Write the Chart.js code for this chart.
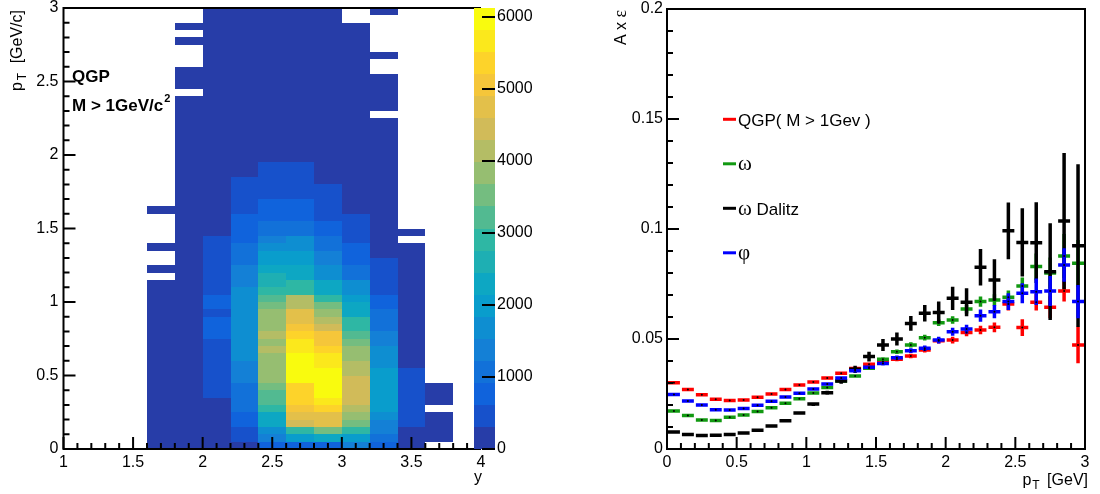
<!DOCTYPE html>
<html>
<head>
<meta charset="utf-8">
<title>QGP pT vs y and acceptance x efficiency</title>
<script src="https://cdn.jsdelivr.net/npm/chart.js@4.4.1/dist/chart.umd.min.js"></script>
<style>
  html, body { margin:0; padding:0; background:#ffffff; }
  body { width:1100px; height:494px; position:relative; overflow:hidden; }
  canvas { position:absolute; top:0; }
  #heat { left:0; }
  #acc { left:550px; }
</style>
</head>
<body>
<canvas id="heat" width="550" height="494"></canvas>
<canvas id="acc" width="550" height="494"></canvas>
<script>
// ================= LEFT PANEL DATA: counts in (y, pT) bins =================
// rapidity bins: lower edges, width 0.2 ; pT bins: 0.05 wide starting at 0 (index 0 = 0-0.05 GeV/c)
const rapidityLowEdges = [1.6, 1.8, 2.0, 2.2, 2.4, 2.6, 2.8, 3.0, 3.2, 3.4, 3.6];
const rapidityBinWidth = 0.2;
const ptBinWidth2D = 0.05;

const counts_y1p6 = [45,60,75,85,90,95,95,90,85,80,75,70,60,55,50,45,40,35,30,25,20,15,12,0,8,0,0,5,0,0,0,0,4,0,0,0,0,0,0,0,0,0,0,0,0,0,0,0,0,0,0,0,0,0,0,0,0,0,0,0];
const counts_y1p8 = [150,175,195,210,220,225,225,220,215,205,195,185,175,165,150,140,130,120,110,100,90,82,75,68,62,56,50,45,41,37,33,30,27,24,22,20,18,16,15,13,12,11,10,9,8,8,7,7,0,6,5,5,0,0,0,4,0,3,0,0];
const counts_y2p0 = [230,260,280,290,295,300,300,380,440,490,530,560,580,600,605,640,700,660,590,650,630,580,540,500,460,420,390,350,320,290,270,250,230,210,190,170,155,140,125,110,100,90,80,72,64,57,50,45,40,36,32,28,25,22,20,18,16,14,12,10];
const counts_y2p2 = [260,450,560,700,850,950,1000,1050,1100,1250,1320,1380,1550,1600,1640,1660,1670,1670,1660,1650,1640,1620,1500,1420,1350,1150,1050,950,880,820,720,650,580,520,460,400,340,290,260,235,210,190,170,150,135,120,105,95,85,75,66,58,50,44,38,33,28,24,20,16];
const counts_y2p4 = [800,1300,1650,2250,2350,2900,3150,3250,3500,3750,3800,3850,3800,4150,3850,4100,3850,3800,3750,3500,3200,2900,2700,2650,2300,2050,1900,1700,1400,1100,1000,850,750,650,590,530,470,410,340,290,260,230,205,185,165,148,132,118,105,94,84,75,67,60,53,47,42,37,33,29];
const counts_y2p6 = [850,2000,2950,4400,4700,5050,5350,5400,5350,5950,6050,6100,6000,5700,5650,5350,5100,4750,4700,4150,4100,2950,2850,2400,2250,2000,1950,1700,1650,1100,1000,850,750,650,590,540,480,420,350,295,265,235,210,188,168,150,134,120,107,96,86,77,69,61,54,48,43,38,34,30];
const counts_y2p8 = [800,2300,3550,4700,4750,5350,5650,5950,6000,6050,5950,5700,5650,5350,5050,5000,4450,4150,3850,3500,2900,2300,2250,1700,1650,1400,1350,1100,1000,800,700,590,530,460,400,330,290,260,235,210,190,170,152,136,122,109,97,87,78,70,62,55,49,44,39,35,31,27,24,21];
const counts_y3p0 = [1350,2000,2900,3500,3800,4150,4450,4500,4450,4400,4150,4100,3850,3800,3500,3200,2950,2850,2300,2250,2000,1700,1650,1100,1000,850,750,650,580,500,420,340,290,260,235,210,188,168,150,134,120,107,96,86,77,69,61,54,48,43,38,34,30,27,24,21,18,16,0,0];
const counts_y3p2 = [800,1100,1350,1400,1700,1900,2000,2050,2050,2000,1950,1800,1650,1600,1400,1350,1100,1050,950,800,700,580,520,450,380,320,280,240,210,180,155,135,118,102,90,78,68,60,52,45,40,35,30,26,22,0,18,15,13,11,9,0,0,7,0,0,0,0,0,5];
const counts_y3p4 = [200,250,290,330,380,420,450,460,440,400,340,290,270,250,230,210,190,170,150,135,120,105,92,80,70,60,50,42,0,30,0,0,0,0,0,0,0,0,0,0,0,0,0,0,0,0,0,0,0,0,0,0,0,0,0,0,0,0,0,0];
const counts_y3p6 = [0,40,60,70,75,0,55,45,35,0,0,0,0,0,0,0,0,0,0,0,0,0,0,0,0,0,0,0,0,0,0,0,0,0,0,0,0,0,0,0,0,0,0,0,0,0,0,0,0,0,0,0,0,0,0,0,0,0,0,0];
const countColumns = [counts_y1p6, counts_y1p8, counts_y2p0, counts_y2p2, counts_y2p4, counts_y2p6, counts_y2p8, counts_y3p0, counts_y3p2, counts_y3p4, counts_y3p6];

const zMax = 6125;
const nContours = 20;
const colorbarTickValues = [0, 1000, 2000, 3000, 4000, 5000, 6000];
const rapidityTickValues = [1, 1.5, 2, 2.5, 3, 3.5, 4];
const ptTickValues2D = [0, 0.5, 1, 1.5, 2, 2.5, 3];

// ================= RIGHT PANEL DATA: A x eps vs pT =================
const ptHalfBin = 0.05;
const ptBinCenters = [0.05,0.15,0.25,0.35,0.45,0.55,0.65,0.75,0.85,0.95,1.05,1.15,1.25,1.35,1.45,1.55,1.65,1.75,1.85,1.95,2.05,2.15,2.25,2.35,2.45,2.55,2.65,2.75,2.85,2.95];
const qgpAccEff = [0.0301,0.0271,0.0247,0.0226,0.0220,0.0223,0.0235,0.0250,0.0270,0.0291,0.0305,0.0323,0.0344,0.0366,0.0385,0.0398,0.0408,0.0423,0.0450,0.0492,0.0495,0.0529,0.0541,0.0553,0.0659,0.0552,0.0667,0.0644,0.0718,0.0473];
const qgpErr = [0.0004,0.0004,0.0004,0.0004,0.0004,0.0004,0.0004,0.0004,0.0004,0.0005,0.0005,0.0005,0.0006,0.0006,0.0007,0.0008,0.0009,0.0010,0.0011,0.0013,0.0015,0.0017,0.0019,0.0022,0.0030,0.0038,0.0038,0.0050,0.0047,0.0083];
const omegaAccEff = [0.0173,0.0152,0.0132,0.0129,0.0144,0.0154,0.0170,0.0187,0.0208,0.0228,0.0254,0.0280,0.0309,0.0332,0.0367,0.0408,0.0442,0.0473,0.0506,0.0574,0.0586,0.0636,0.0670,0.0677,0.0690,0.0741,0.0829,0.0800,0.0877,0.0844];
const omegaErr = [0.0004,0.0004,0.0004,0.0004,0.0004,0.0004,0.0004,0.0004,0.0005,0.0005,0.0005,0.0006,0.0006,0.0007,0.0008,0.0009,0.0010,0.0012,0.0013,0.0015,0.0017,0.0020,0.0023,0.0026,0.0030,0.0038,0.0060,0.0070,0.0100,0.0106];
const dalitzAccEff = [0.0077,0.0066,0.0061,0.0062,0.0066,0.0073,0.0085,0.0104,0.0128,0.0164,0.0204,0.0256,0.0309,0.0362,0.0420,0.0473,0.0500,0.0571,0.0617,0.0621,0.0685,0.0667,0.0826,0.0768,0.0992,0.0939,0.0938,0.0806,0.1036,0.0924];
const dalitzErr = [0.0004,0.0004,0.0004,0.0004,0.0004,0.0004,0.0005,0.0005,0.0006,0.0007,0.0008,0.0009,0.0012,0.0016,0.0022,0.0027,0.0030,0.0033,0.0038,0.0050,0.0053,0.0064,0.0083,0.0094,0.0129,0.0155,0.0184,0.0220,0.0310,0.0370];
const phiAccEff = [0.0248,0.0218,0.0200,0.0178,0.0177,0.0184,0.0199,0.0217,0.0236,0.0253,0.0273,0.0295,0.0323,0.0356,0.0372,0.0389,0.0415,0.0447,0.0458,0.0495,0.0533,0.0545,0.0606,0.0624,0.0670,0.0708,0.0715,0.0718,0.0836,0.0670];
const phiErr = [0.0004,0.0004,0.0004,0.0004,0.0004,0.0004,0.0004,0.0004,0.0005,0.0005,0.0005,0.0006,0.0006,0.0007,0.0008,0.0009,0.0010,0.0011,0.0012,0.0015,0.0018,0.0020,0.0028,0.0030,0.0038,0.0045,0.0060,0.0068,0.0076,0.0076];
const seriesLabels = ['QGP( M > 1Gev )', 'ω', 'ω Dalitz', 'φ'];
const ptTickValues = [0, 0.5, 1, 1.5, 2, 2.5, 3];
const accTickValues = [0, 0.05, 0.1, 0.15, 0.2];

// ================= helpers =================
const SANS = '"Liberation Sans", Arial, Helvetica, sans-serif';
const SERIF = '"Liberation Serif", "Times New Roman", serif';
Chart.defaults.font.family = SANS;
Chart.defaults.color = '#000';

const birdStops = [0, 0.125, 0.25, 0.375, 0.5, 0.625, 0.75, 0.875, 1];
const birdR = [0.2082, 0.0592, 0.0780, 0.0232, 0.1802, 0.5301, 0.8186, 0.9956, 0.9764];
const birdG = [0.1664, 0.3599, 0.5041, 0.6419, 0.7178, 0.7492, 0.7328, 0.7862, 0.9832];
const birdB = [0.5293, 0.8684, 0.8385, 0.7914, 0.6425, 0.4662, 0.3499, 0.1968, 0.0539];
function bird(t) {
  let i = 0;
  while (i < birdStops.length - 2 && t > birdStops[i + 1]) i++;
  const f = (t - birdStops[i]) / (birdStops[i + 1] - birdStops[i]);
  const c = a => Math.round(255 * (a[i] + (a[i + 1] - a[i]) * f));
  return `rgb(${c(birdR)},${c(birdG)},${c(birdB)})`;
}
function contourColor(k) {
  const idx = Math.min(254, Math.floor((k + 0.99) * 255 / nContours));
  return bird(idx / 254);
}
const fmt = v => String(Math.round(v * 10000) / 10000);
const r6 = v => Math.round(v * 1e6) / 1e6;

function drawRich(ctx, x, y, parts, align) {
  let total = 0;
  parts.forEach(p => { ctx.font = p.font; total += (p.gap || 0) + ctx.measureText(p.t).width; });
  let cur = align === 'right' ? x - total : x;
  parts.forEach(p => {
    ctx.font = p.font;
    cur += (p.gap || 0);
    ctx.fillText(p.t, cur, y + (p.dy || 0));
    cur += ctx.measureText(p.t).width;
  });
}

function drawRootTicks(chart, axisId, majorStep, minorStep) {
  const ctx = chart.ctx, s = chart.scales[axisId], a = chart.chartArea;
  ctx.save();
  ctx.strokeStyle = '#000';
  ctx.lineWidth = 2;
  const n = Math.round((s.max - s.min) / minorStep);
  ctx.beginPath();
  for (let i = 0; i <= n; i++) {
    const v = s.min + i * minorStep;
    const r = v / majorStep;
    const len = Math.abs(r - Math.round(r)) < 1e-6 ? 12 : 6;
    const p = s.getPixelForValue(v);
    if (s.isHorizontal()) { ctx.moveTo(p, a.bottom); ctx.lineTo(p, a.bottom - len); }
    else { ctx.moveTo(a.left, p); ctx.lineTo(a.left + len, p); }
  }
  ctx.stroke();
  ctx.restore();
}

function fixedScale(opts) {
  return Object.assign({
    type: 'linear',
    grid: { display: false, drawTicks: false },
    border: { display: false }
  }, opts);
}
function tickOpts(padding) {
  return { font: { family: SANS, size: 16, lineHeight: 1 }, color: '#000', padding: padding, maxRotation: 0, autoSkip: false, callback: v => fmt(v) };
}
function noPad(s) { s.paddingTop = 0; s.paddingBottom = 0; s.paddingLeft = 0; s.paddingRight = 0; }

// ================= LEFT CHART =================
const heatCells = [];
countColumns.forEach((col, ci) => {
  col.forEach((v, ri) => {
    if (v > 0) heatCells.push({ x: rapidityLowEdges[ci] + rapidityBinWidth / 2, y: (ri + 0.5) * ptBinWidth2D, v: v });
  });
});

const heatmapPlugin = {
  id: 'heatmap',
  beforeDatasetsDraw(chart) {
    const { ctx, scales: { x, y } } = chart;
    const step = zMax / nContours;
    ctx.save();
    chart.data.datasets[0].data.forEach(c => {
      const k = Math.min(nContours - 1, Math.floor(c.v / step));
      const x0 = Math.round(x.getPixelForValue(r6(c.x - rapidityBinWidth / 2)));
      const x1 = Math.round(x.getPixelForValue(r6(c.x + rapidityBinWidth / 2)));
      const y0 = Math.round(y.getPixelForValue(r6(c.y + ptBinWidth2D / 2)));
      const y1 = Math.round(y.getPixelForValue(r6(c.y - ptBinWidth2D / 2)));
      ctx.fillStyle = contourColor(k);
      ctx.fillRect(x0, y0, x1 - x0, y1 - y0);
    });
    ctx.restore();
  },
  afterDraw(chart) {
    const { ctx, chartArea: a, scales: { z } } = chart;
    ctx.save();
    ctx.strokeStyle = '#000';
    ctx.lineWidth = 2;
    ctx.beginPath();
    ctx.moveTo(a.left, a.top); ctx.lineTo(a.right, a.top);
    ctx.moveTo(a.left, a.bottom); ctx.lineTo(a.right, a.bottom);
    ctx.moveTo(a.left, a.top - 1); ctx.lineTo(a.left, a.bottom + 1);
    ctx.stroke();
    ctx.restore();
    drawRootTicks(chart, 'x', 0.5, 0.1);
    drawRootTicks(chart, 'y', 0.5, 0.1);
    // colour palette
    const step = zMax / nContours;
    const px0 = a.right - 7, px1 = a.right + 14;
    ctx.save();
    for (let k = 0; k < nContours; k++) {
      const yTop = Math.round(z.getPixelForValue((k + 1) * step));
      const yBot = Math.round(z.getPixelForValue(k * step));
      ctx.fillStyle = contourColor(k);
      ctx.fillRect(px0, yTop, px1 - px0, yBot - yTop);
    }
    ctx.strokeStyle = '#000';
    ctx.lineWidth = 2;
    ctx.beginPath();
    z.ticks.forEach(t => {
      const p = z.getPixelForValue(t.value);
      ctx.moveTo(px1 - 13, p); ctx.lineTo(px1, p);
    });
    ctx.stroke();
    ctx.restore();
    // texts
    ctx.save();
    ctx.fillStyle = '#000';
    ctx.textBaseline = 'alphabetic';
    drawRich(ctx, 72, 82, [{ t: 'QGP', font: 'bold 17px ' + SANS }], 'left');
    drawRich(ctx, 72, 111, [
      { t: 'M > 1GeV/c', font: 'bold 17px ' + SANS },
      { t: '2', font: 'bold 11px ' + SANS, dy: -9, gap: 1 }
    ], 'left');
    drawRich(ctx, 482, 482, [{ t: 'y', font: '16px ' + SANS }], 'right');
    ctx.translate(22, 10);
    ctx.rotate(-Math.PI / 2);
    drawRich(ctx, 0, 0, [
      { t: 'p', font: '16px ' + SANS },
      { t: 'T', font: '12px ' + SANS, dy: 4, gap: 2 },
      { t: ' [GeV/c]', font: '16px ' + SANS, gap: 5 }
    ], 'right');
    ctx.restore();
  }
};

new Chart(document.getElementById('heat'), {
  type: 'scatter',
  data: { datasets: [{ label: 'QGP M > 1GeV/c2', data: heatCells, pointRadius: 0, pointHoverRadius: 0 }] },
  options: {
    responsive: false,
    devicePixelRatio: 1,
    animation: false,
    events: [],
    layout: { padding: { top: 8, left: 0, right: 0, bottom: 0 } },
    plugins: { legend: { display: false }, tooltip: { enabled: false } },
    scales: {
      x: fixedScale({
        position: 'bottom', min: 1, max: 4,
        afterBuildTicks: s => { s.ticks = rapidityTickValues.map(v => ({ value: v })); },
        afterFit: s => { s.height = 45; noPad(s); },
        ticks: tickOpts(6)
      }),
      y: fixedScale({
        position: 'left', min: 0, max: 3,
        afterBuildTicks: s => { s.ticks = ptTickValues2D.map(v => ({ value: v })); },
        afterFit: s => { s.width = 63.5; noPad(s); },
        ticks: tickOpts(5)
      }),
      z: fixedScale({
        position: 'right', min: 0, max: zMax,
        afterBuildTicks: s => { s.ticks = colorbarTickValues.map(v => ({ value: v })); },
        afterFit: s => { s.width = 69; noPad(s); },
        ticks: tickOpts(16)
      })
    }
  },
  plugins: [heatmapPlugin]
});

// ================= RIGHT CHART =================
const accSeries = [
  { label: seriesLabels[0], values: qgpAccEff, errors: qgpErr, color: '#ff0000' },
  { label: seriesLabels[1], values: omegaAccEff, errors: omegaErr, color: '#119911' },
  { label: seriesLabels[2], values: dalitzAccEff, errors: dalitzErr, color: '#000000' },
  { label: seriesLabels[3], values: phiAccEff, errors: phiErr, color: '#0000ff' }
];

const errorBarPlugin = {
  id: 'errorBars',
  beforeDatasetsDraw(chart) {
    const { ctx, chartArea: a, scales: { x, y } } = chart;
    ctx.save();
    ctx.beginPath();
    ctx.rect(a.left, a.top, a.right - a.left, a.bottom - a.top);
    ctx.clip();
    ctx.lineWidth = 3.5;
    ctx.lineCap = 'butt';
    chart.data.datasets.forEach(ds => {
      ctx.strokeStyle = ds.borderColor;
      ctx.beginPath();
      ds.data.forEach(p => {
        const xl = x.getPixelForValue(p.x - ptHalfBin) + 1;
        const xr = x.getPixelForValue(p.x + ptHalfBin) - 1;
        const xc = x.getPixelForValue(p.x);
        const yc = y.getPixelForValue(p.y);
        const yt = y.getPixelForValue(p.y + p.yerr);
        const yb = y.getPixelForValue(p.y - p.yerr);
        ctx.moveTo(xl, yc); ctx.lineTo(xr, yc);
        if (yb - yt > 3) { ctx.moveTo(xc, yt); ctx.lineTo(xc, yb); }
      });
      ctx.stroke();
    });
    ctx.restore();
  },
  afterDraw(chart) {
    const { ctx, chartArea: a } = chart;
    ctx.save();
    ctx.strokeStyle = '#000';
    ctx.lineWidth = 2;
    ctx.strokeRect(a.left, a.top, a.right - a.left, a.bottom - a.top);
    ctx.restore();
    drawRootTicks(chart, 'x', 0.5, 0.1);
    drawRootTicks(chart, 'y', 0.05, 0.01);
    ctx.save();
    ctx.textBaseline = 'alphabetic';
    chart.data.datasets.forEach((ds, i) => {
      const ly = 119.3 + i * 44.5;
      ctx.strokeStyle = ds.borderColor;
      ctx.lineWidth = 3;
      ctx.beginPath();
      ctx.moveTo(173, ly); ctx.lineTo(186, ly);
      ctx.stroke();
      ctx.fillStyle = '#000';
      const parts = [];
      let buf = '';
      for (const ch of ds.label) {
        if (/[\u0370-\u03ff]/.test(ch)) {
          if (buf) { parts.push({ t: buf, font: '17px ' + SANS }); buf = ''; }
          parts.push({ t: ch, font: '21px ' + SERIF });
        } else buf += ch;
      }
      if (buf) parts.push({ t: buf, font: '17px ' + SANS });
      drawRich(ctx, 188, ly + 6.3, parts, 'left');
    });
    drawRich(ctx, 538, 485, [
      { t: 'p', font: '16px ' + SANS },
      { t: 'T', font: '12px ' + SANS, dy: 4, gap: 1 },
      { t: ' [GeV]', font: '16px ' + SANS, gap: 3 }
    ], 'right');
    ctx.translate(76, 10);
    ctx.rotate(-Math.PI / 2);
    drawRich(ctx, 0, 0, [
      { t: 'A x ', font: '16px ' + SANS },
      { t: 'ε', font: '18px ' + SERIF }
    ], 'right');
    ctx.restore();
  }
};

new Chart(document.getElementById('acc'), {
  type: 'scatter',
  data: {
    datasets: accSeries.map(s => ({
      label: s.label,
      data: ptBinCenters.map((x, i) => ({ x: x, y: s.values[i], yerr: s.errors[i] })),
      borderColor: s.color,
      backgroundColor: '#000',
      pointRadius: 1,
      pointBorderWidth: 0,
      pointHoverRadius: 0,
      showLine: false
    }))
  },
  options: {
    responsive: false,
    devicePixelRatio: 1,
    animation: false,
    events: [],
    layout: { padding: { top: 9, left: 0, right: 15, bottom: 0 } },
    plugins: { legend: { display: false }, tooltip: { enabled: false } },
    scales: {
      x: fixedScale({
        position: 'bottom', min: 0, max: 3,
        afterBuildTicks: s => { s.ticks = ptTickValues.map(v => ({ value: v })); },
        afterFit: s => { s.height = 45; noPad(s); },
        ticks: tickOpts(6)
      }),
      y: fixedScale({
        position: 'left', min: 0, max: 0.2,
        afterBuildTicks: s => { s.ticks = accTickValues.map(v => ({ value: v })); },
        afterFit: s => { s.width = 117; noPad(s); },
        ticks: tickOpts(4)
      })
    }
  },
  plugins: [errorBarPlugin]
});
</script>
</body>
</html>
